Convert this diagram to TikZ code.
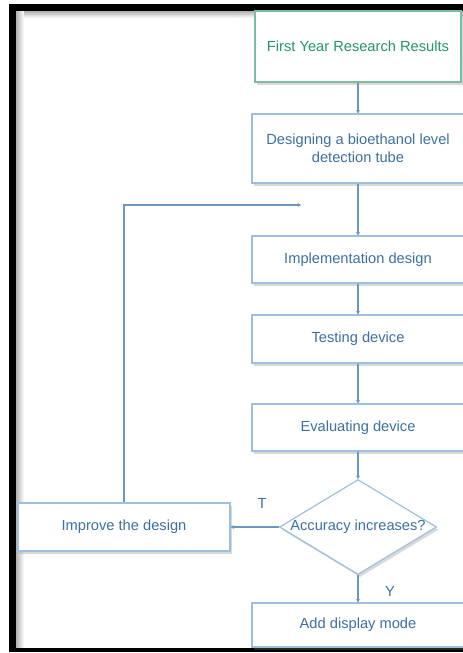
\documentclass[tikz,border=0pt]{standalone}
\usepackage{fontspec}
\setmainfont{Liberation Sans}
\usetikzlibrary{
  arrows.meta,
  shapes.geometric,
  shadows
}
\definecolor{boxline}{RGB}{158,192,222}
\definecolor{boxtext}{RGB}{62,112,162}
\definecolor{flowblue}{RGB}{108,152,192}
\definecolor{startline}{RGB}{125,188,162}
\definecolor{starttext}{RGB}{38,148,108}

\begin{document}
\begin{tikzpicture}[x=0.75pt,y=-0.75pt]
  \tikzset{
    boxfont/.style = {font=\fontsize{11}{13.5}\selectfont},
    stepbox/.style = {
      draw=boxline, fill=white, line width=0.9pt,
      text=boxtext, align=center, boxfont, inner sep=0pt,
      minimum width=159pt,
      drop shadow={shadow xshift=1.5pt, shadow yshift=-2pt, opacity=.3}
    },
    startbox/.style = {stepbox, draw=startline, text=starttext,
      minimum width=154.5pt},
    decision/.style = {stepbox, diamond, minimum width=117.75pt,
      minimum height=71.25pt},
    flowline/.style = {draw=flowblue, line width=0.9pt,
      -{Stealth[length=2.5pt,width=3pt]}},
    flowlabel/.style = {text=boxtext, boxfont, inner sep=0pt},
  }
  \useasboundingbox (0,0) rectangle (463,653);
  \clip (0,0) rectangle (463,653);

  % frame of the page, black edge with a soft inner shade
  \shade[left color=black!30, right color=white] (16,11) rectangle (24,648);
  \shade[top color=black!30, bottom color=white] (24,11) rectangle (463,18);
  \fill[black] (9,4) rectangle (16,652);
  \fill[black] (9,4) rectangle (463,11);
  \fill[black] (9,648) rectangle (463,652);

  % main column of steps
  \node[startbox, minimum height=53.25pt] (first) at (358,46.5)
    {First Year Research Results};
  \node[stepbox, minimum height=51.75pt] (design) at (358,148.5)
    {Designing a bioethanol level\\detection tube};
  \node[stepbox, minimum height=35.25pt] (impl) at (358,259.5)
    {Implementation design};
  \node[stepbox, minimum height=36pt] (test) at (358,339)
    {Testing device};
  \node[stepbox, minimum height=35.25pt] (eval) at (358,427.5)
    {Evaluating device};
  \node[decision,
    label={[name=acctext, flowlabel]center:Accuracy increases?}]
    (acc) at (358,527) {};
  \node[stepbox, minimum height=33pt] (display) at (358,625)
    {Add display mode};

  % side branch
  \node[stepbox, minimum height=36pt] (improve) at (124,527)
    {Improve the design};
  \coordinate (loopend) at (301,205);

  \foreach \a/\b in {first/design,design/impl,impl/test,test/eval,eval/acc,acc/display}
    \draw[flowline] (\a) -- (\b);
  \draw[flowline] (acc.west) -- (improve.east);
  \draw[flowline] (improve.north) |- (loopend);

  \node[flowlabel] (lblT) at (262,503) {T};
  \node[flowlabel] (lblY) at (390,591) {Y};
\end{tikzpicture}
\end{document}
